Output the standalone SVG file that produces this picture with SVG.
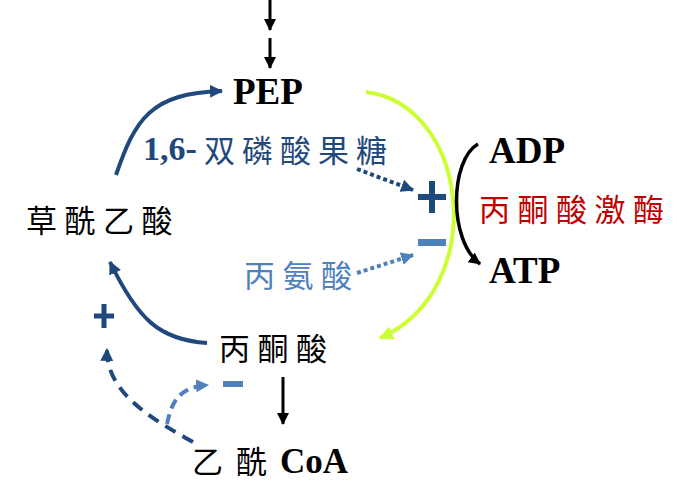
<svg xmlns="http://www.w3.org/2000/svg" width="699" height="504" viewBox="0 0 699 504">
<style>
.cjk{font-family:"Noto Sans CJK SC","Noto Sans CJK TC",sans-serif;font-size:31px;}
.lat{font-family:"Liberation Serif","Times New Roman",serif;font-weight:bold;}
.conn{fill:none;}
</style>
<defs>
<marker id="mBlack" viewBox="0 0 12 12" markerWidth="12" markerHeight="12" refX="11" refY="6" orient="auto" markerUnits="userSpaceOnUse"><path d="M0,0 L12,6 L0,12 z" fill="#000"/></marker>
<marker id="mDark" viewBox="0 0 12 12" markerWidth="13" markerHeight="13" refX="11" refY="6" orient="auto" markerUnits="userSpaceOnUse"><path d="M0,0 L12,6 L0,12 z" fill="#1F497D"/></marker>
<marker id="mLight" viewBox="0 0 12 12" markerWidth="13" markerHeight="13" refX="11" refY="6" orient="auto" markerUnits="userSpaceOnUse"><path d="M0,0 L12,6 L0,12 z" fill="#4F81BD"/></marker>
<marker id="mGreen" viewBox="0 0 12 12" markerWidth="14" markerHeight="14" refX="11" refY="6" orient="auto" markerUnits="userSpaceOnUse"><path d="M0,0 L12,6 L0,12 z" fill="#CCFF33"/></marker>
</defs>
<rect width="699" height="504" fill="#fff"/>
<g id="connectors" class="conn">
<line x1="270" y1="0" x2="270" y2="30" stroke="#000" stroke-width="3" marker-end="url(#mBlack)"/>
<line x1="270" y1="38" x2="270" y2="68" stroke="#000" stroke-width="3" marker-end="url(#mBlack)"/>
<path d="M116,175 C135,120 150,93 222,91" stroke="#1F497D" stroke-width="4" marker-end="url(#mDark)"/>
<path d="M207,343 C160,340 138,320 110,262" stroke="#1F497D" stroke-width="4" marker-end="url(#mDark)"/>
<path d="M366,92 C470,105 490,290 380,338" stroke="#CCFF33" stroke-width="4" marker-end="url(#mGreen)"/>
<path d="M478,144 C450,160 448,240 480,264" stroke="#000" stroke-width="3.5" marker-end="url(#mBlack)"/>
<path d="M357,169 L413,190" stroke="#1F497D" stroke-width="4" stroke-dasharray="4 3" marker-end="url(#mDark)"/>
<path d="M357,273 L413,255" stroke="#4F81BD" stroke-width="4" stroke-dasharray="4 3" marker-end="url(#mLight)"/>
<line x1="283" y1="377" x2="283" y2="424" stroke="#000" stroke-width="3" marker-end="url(#mBlack)"/>
<path d="M193,442 C150,418 106,392 107,349" stroke="#1F497D" stroke-width="4" stroke-dasharray="12 8" marker-end="url(#mDark)"/>
<path d="M167,424 C172,400 180,387 208,385" stroke="#4F81BD" stroke-width="4" stroke-dasharray="10 6" marker-end="url(#mLight)"/>
</g>
<g id="PEP"><text x="233" y="104" class="lat" font-size="37">PEP</text></g>
<g id="ADP"><text x="489" y="163" class="lat" font-size="37">ADP</text></g>
<g id="ATP"><text x="489" y="283" class="lat" font-size="37">ATP</text></g>
<g id="enzyme"><text x="479" y="221" class="cjk" fill="#C00000" letter-spacing="7.5">丙酮酸激酶</text></g>
<g id="FBP"><text y="161" fill="#1F497D"><tspan x="143" y="160" class="lat" font-size="34">1,6-</tspan><tspan x="204" y="162" class="cjk" letter-spacing="7">双磷酸果糖</tspan></text></g>
<g id="alanine"><text x="244" y="287" class="cjk" fill="#4F81BD" letter-spacing="7.5">丙氨酸</text></g>
<g id="oxaloacetate"><text x="26" y="232" class="cjk" fill="#000" letter-spacing="7.5">草酰乙酸</text></g>
<g id="pyruvate"><text x="219" y="360" class="cjk" fill="#000" letter-spacing="7.5">丙酮酸</text></g>
<g id="acetylCoA"><text y="473" fill="#000"><tspan x="192" class="cjk">乙</tspan><tspan x="236" class="cjk">酰</tspan><tspan x="280" y="473" class="lat" font-size="35">CoA</tspan></text></g>
<g id="signs">
<path d="M418,197 H446 M432,181 V213" stroke="#1F497D" stroke-width="6" fill="none"/>
<rect x="418" y="239" width="28" height="7" fill="#4F81BD"/>
<path d="M94,316 H114 M104,304 V328" stroke="#1F497D" stroke-width="5" fill="none"/>
<rect x="223" y="381" width="20" height="6" fill="#4F81BD"/>
</g>
</svg>
